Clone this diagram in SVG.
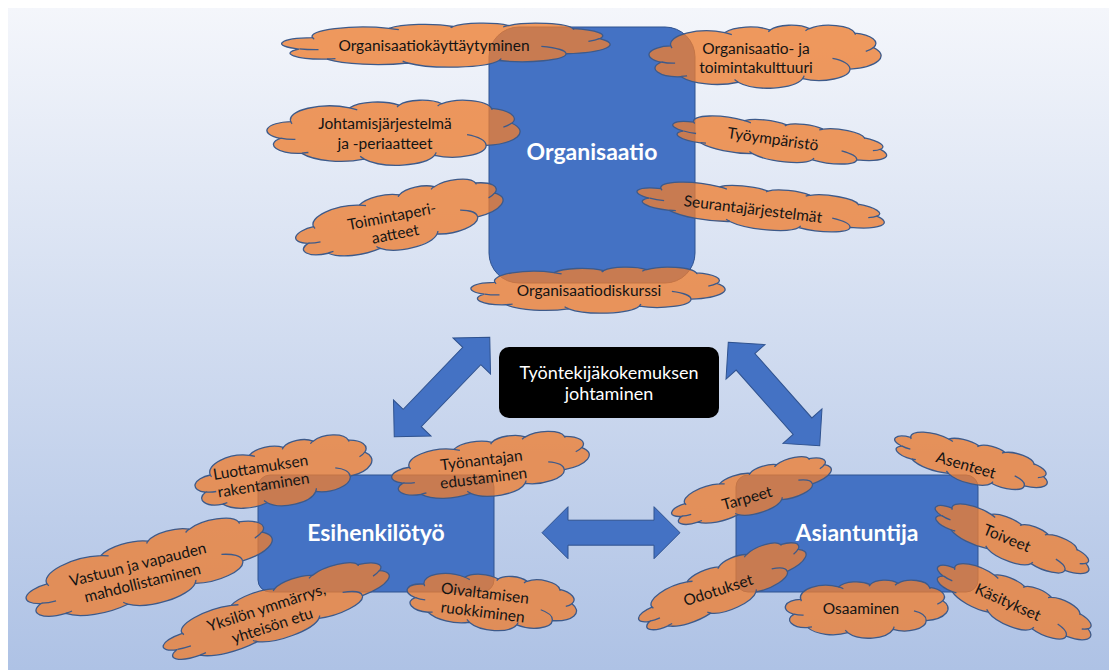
<svg xmlns="http://www.w3.org/2000/svg" xmlns:xlink="http://www.w3.org/1999/xlink" width="1109" height="670" viewBox="0 0 1109 670">
  <defs>
    <linearGradient id="bg" x1="0" y1="0" x2="0" y2="1">
      <stop offset="0" stop-color="#F4F6FB"/>
      <stop offset="1" stop-color="#AEC2E5"/>
    </linearGradient>
    <!-- cloud outline in a 432 x 432 frame, with the small inner curls -->
    <g id="cloud">
      <path class="cl-body" d="M39 143.7A67.53 91.9 0 0 1 140.03 52.02A53.33 72.67 0 0 1 224.54 34.32A43.65 59.45 0 0 1 298.3 24.8A48.57 65.95 0 0 1 383.16 55.73A53.33 72.73 0 0 1 418.16 154.59A67.75 92.2 0 0 1 374.02 302.02A57.85 78.67 0 0 1 285.53 368.13A67.52 92.15 0 0 1 164.78 392.66A77.2 105.43 0 0 1 57.99 354.72A43.6 59.18 0 0 1 21.09 255.48A43.45 59.45 0 0 1 39 143.7Z"/>
      <path class="cl-curl" d="M46.93 261.77A43.45 59.45 0 0 1 21.59 253.79M69.28 348.99A43.6 59.18 0 0 1 58.19 352.81M164.78 390.9A67.52 92.15 0 0 1 158.1 373.48M288.27 347.51A67.52 92.15 0 0 1 285.6 366.61M341.29 229.54A57.85 78.67 0 0 1 373.81 300.89M417.98 153.54A53.33 72.73 0 0 1 403.5 180.29M383.24 54.26A48.57 65.95 0 0 1 384.01 66.91M290.78 39.52A48.57 65.95 0 0 1 298.2 23.4M221.41 47.2A43.65 59.45 0 0 1 225 33.32M140 51.92A67.53 91.9 0 0 1 153.01 65.4M41.27 157.89A67.53 91.9 0 0 1 39.01 143.71"/>
    </g>
    <path id="dblarrow" d="M-69 0L-43 -26L-43 -12.5L43 -12.5L43 -26L69 0L43 26L43 12.5L-43 12.5L-43 26Z"/>
  </defs>
  <style>
    .cl-body { fill: #ED7D31; fill-opacity: 0.78; stroke: #3D5A8A; stroke-width: 1.3; vector-effect: non-scaling-stroke; }
    .cl-curl { fill: none; stroke: #3D5A8A; stroke-width: 1.3; vector-effect: non-scaling-stroke; }
    .box { fill: #4472C4; stroke: #2F528F; stroke-width: 1; }
    .arrow { fill: #4472C4; stroke: #2F528F; stroke-width: 1; }
    .lbl { font-family: Lato, "Liberation Sans", sans-serif; font-size: 15.5px; fill: #141414; text-anchor: middle; }
    .big { font-family: Lato, "Liberation Sans", sans-serif; font-weight: bold; font-size: 23px; fill: #ffffff; text-anchor: middle; }
    .core { font-family: Lato, "Liberation Sans", sans-serif; font-size: 18px; fill: #ffffff; text-anchor: middle; }
  </style>

  <!-- backdrop -->
  <rect x="0" y="0" width="1109" height="670" fill="#ffffff"/>
  <rect x="8" y="8" width="1101" height="662" fill="url(#bg)"/>

  <!-- main blocks -->
  <g id="organisaatio">
    <rect class="box" x="489" y="27" width="206" height="256" rx="30"/>
    <text class="big" x="592" y="160">Organisaatio</text>
  </g>
  <g id="esihenkilotyo">
    <rect class="box" x="258" y="475" width="236" height="117" rx="12"/>
    <text class="big" x="376" y="541">Esihenkilötyö</text>
  </g>
  <g id="asiantuntija">
    <rect class="box" x="736" y="475" width="242" height="117" rx="12"/>
    <text class="big" x="857" y="541">Asiantuntija</text>
  </g>

  <!-- two-way links between the blocks -->
  <g id="connectors">
    <use class="arrow" href="#dblarrow" transform="translate(442 387) rotate(-46.2)"/>
    <use class="arrow" href="#dblarrow" transform="translate(774 394) rotate(48.5)"/>
    <use class="arrow" href="#dblarrow" transform="translate(611 532.7)"/>
  </g>

  <g id="johtaminen">
    <rect x="499" y="347" width="220" height="71" rx="10" fill="#000000"/>
    <text class="core"><tspan x="609" y="379">Työntekijäkokemuksen</tspan><tspan x="609" y="400">johtaminen</tspan></text>
  </g>

  <!-- organisation clouds -->
  <g id="c-kayttaytyminen">
    <use href="#cloud" transform="translate(446.5 45) scale(0.7569 0.1019) translate(-216 -216)"/>
    <text class="lbl" x="434" y="50.5">Organisaatiokäyttäytyminen</text>
  </g>
  <g id="c-kulttuuri">
    <use href="#cloud" transform="translate(765.5 56.5) scale(0.5347 0.1458) translate(-216 -216)"/>
    <text class="lbl"><tspan x="756" y="53.5">Organisaatio- ja</tspan><tspan x="756" y="73">toimintakulttuuri</tspan></text>
  </g>
  <g id="c-johtamisjarjestelma">
    <use href="#cloud" transform="translate(394 132.5) scale(0.5833 0.1505) translate(-216 -216)"/>
    <text class="lbl"><tspan x="385" y="128.5">Johtamisjärjestelmä</tspan><tspan x="385" y="148.5">ja -periaatteet</tspan></text>
  </g>
  <g id="c-toimintaperiaatteet">
    <use href="#cloud" transform="translate(400 220) rotate(-11) scale(0.4861 0.1366) translate(-216 -216)"/>
    <text class="lbl" transform="translate(393.5 225) rotate(-11)"><tspan x="0" y="-3.5">Toimintaperi-</tspan><tspan x="0" y="14.5">aatteet</tspan></text>
  </g>
  <g id="c-tyoymparisto">
    <use href="#cloud" transform="translate(780 141) rotate(8) scale(0.4977 0.0926) translate(-216 -216)"/>
    <text class="lbl" transform="translate(773 139) rotate(8)" x="0" y="5.5">Työympäristö</text>
  </g>
  <g id="c-seuranta">
    <use href="#cloud" transform="translate(761 208) rotate(7) scale(0.5741 0.0972) translate(-216 -216)"/>
    <text class="lbl" transform="translate(753 209) rotate(7)" x="0" y="5.5">Seurantajärjestelmät</text>
  </g>
  <g id="c-diskurssi">
    <use href="#cloud" transform="translate(598.5 290) scale(0.5856 0.1065) translate(-216 -216)"/>
    <text class="lbl" x="589" y="295.5">Organisaatiodiskurssi</text>
  </g>

  <!-- supervisor clouds -->
  <g id="c-luottamus">
    <use href="#cloud" transform="translate(284 474) rotate(-9) scale(0.412 0.1458) translate(-216 -216)"/>
    <text class="lbl" transform="translate(262 476) rotate(-9)"><tspan x="0" y="-3.5">Luottamuksen</tspan><tspan x="0" y="14.5">rakentaminen</tspan></text>
  </g>
  <g id="c-tyonantaja">
    <use href="#cloud" transform="translate(491 467) rotate(-7) scale(0.4583 0.1343) translate(-216 -216)"/>
    <text class="lbl" transform="translate(482.5 469) rotate(-7)"><tspan x="0" y="-3.5">Työnantajan</tspan><tspan x="0" y="14.5">edustaminen</tspan></text>
  </g>
  <g id="c-vastuu">
    <use href="#cloud" transform="translate(150 570) rotate(-14) scale(0.5833 0.1574) translate(-216 -216)"/>
    <text class="lbl" transform="translate(140 573) rotate(-14)"><tspan x="0" y="-3.5">Vastuun ja vapauden</tspan><tspan x="0" y="15.5">mahdollistaminen</tspan></text>
  </g>
  <g id="c-yksilo">
    <use href="#cloud" transform="translate(277 612) rotate(-18) scale(0.5463 0.125) translate(-216 -216)"/>
    <text class="lbl" transform="translate(269 616) rotate(-18)"><tspan x="0" y="-3.5">Yksilön ymmärrys,</tspan><tspan x="0" y="15.5">yhteisön etu</tspan></text>
  </g>
  <g id="c-oivaltaminen">
    <use href="#cloud" transform="translate(492 602) rotate(7) scale(0.3935 0.1296) translate(-216 -216)"/>
    <text class="lbl" transform="translate(484 602) rotate(7)"><tspan x="0" y="-3.5">Oivaltamisen</tspan><tspan x="0" y="15.5">ruokkiminen</tspan></text>
  </g>

  <!-- expert clouds -->
  <g id="c-asenteet">
    <use href="#cloud" transform="translate(971 462) rotate(16) scale(0.3657 0.0972) translate(-216 -216)"/>
    <text class="lbl" transform="translate(966 465) rotate(16)" x="0" y="5.5">Asenteet</text>
  </g>
  <g id="c-tarpeet">
    <use href="#cloud" transform="translate(752 492) rotate(-16) scale(0.3819 0.1019) translate(-216 -216)"/>
    <text class="lbl" transform="translate(747 498) rotate(-16)" x="0" y="5.5">Tarpeet</text>
  </g>
  <g id="c-toiveet">
    <use href="#cloud" transform="translate(1012 540) rotate(22) scale(0.3819 0.0972) translate(-216 -216)"/>
    <text class="lbl" transform="translate(1007 538) rotate(22)" x="0" y="5.5">Toiveet</text>
  </g>
  <g id="c-kasitykset">
    <use href="#cloud" transform="translate(1014 603) rotate(24) scale(0.3866 0.1065) translate(-216 -216)"/>
    <text class="lbl" transform="translate(1008 602) rotate(24)" x="0" y="5.5">Käsitykset</text>
  </g>
  <g id="c-odotukset">
    <use href="#cloud" transform="translate(723 587) rotate(-22) scale(0.4144 0.1111) translate(-216 -216)"/>
    <text class="lbl" transform="translate(718 590) rotate(-18)" x="0" y="5.5">Odotukset</text>
  </g>
  <g id="c-osaaminen">
    <use href="#cloud" transform="translate(867 609) scale(0.375 0.1343) translate(-216 -216)"/>
    <text class="lbl" x="861" y="613.5">Osaaminen</text>
  </g>
</svg>
